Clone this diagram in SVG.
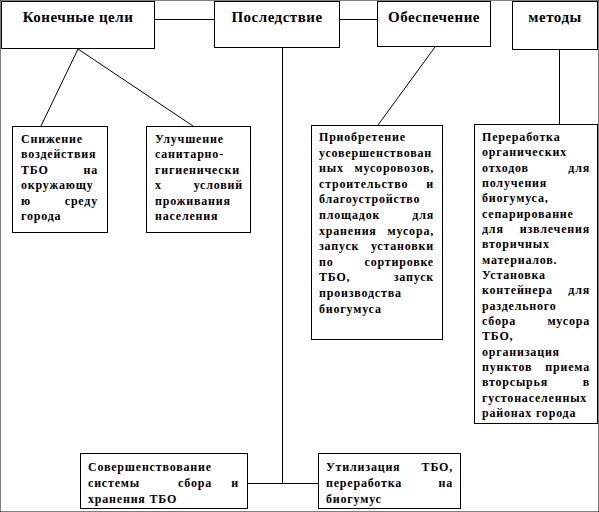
<svg xmlns="http://www.w3.org/2000/svg" width="599" height="512" viewBox="0 0 599 512">
<style>
rect{fill:#fff;stroke:#000;stroke-width:1}
line{stroke:#000;stroke-width:1}
text{font-family:"Liberation Serif","Times New Roman",serif;font-weight:bold;fill:#000}
.h{font-size:15px;letter-spacing:0.5px;text-anchor:middle}
.t{font-size:12px;letter-spacing:0.8px}
.r{text-anchor:end}
</style>
<rect width="599" height="512" fill="#fff" stroke="none"/>
<g id="connectors">
<line x1="154.5" y1="19.5" x2="214.5" y2="19.5"/>
<line x1="339.5" y1="19.5" x2="377.5" y2="19.5"/>
<line x1="78" y1="49" x2="41" y2="126"/>
<line x1="78" y1="49" x2="193" y2="126"/>
<line x1="435" y1="47" x2="378" y2="125"/>
<line x1="559.5" y1="50" x2="559.5" y2="124"/>
<line x1="282.5" y1="47" x2="282.5" y2="483.5"/>
<line x1="247.5" y1="483.5" x2="318.5" y2="483.5"/>
</g>
<g id="n1"><rect x="1.5" y="1.5" width="153" height="47"/><text class="h" x="78" y="22">Конечные цели</text></g>
<g id="n2"><rect x="214.5" y="1.5" width="125" height="46"/><text class="h" x="277" y="22">Последствие</text></g>
<g id="n3"><rect x="377.5" y="1.5" width="113" height="45"/><text class="h" x="434" y="22">Обеспечение</text></g>
<g id="n4"><rect x="512.5" y="1.5" width="85" height="48"/><text class="h" x="555" y="22">методы</text></g>
<g id="nA"><rect x="12.5" y="126.5" width="95" height="106"/>
<text class="t" x="21" y="143">Снижение</text>
<text class="t" x="21" y="158.4">воздействия</text>
<text class="t" x="21" y="173.8">ТБО</text><text class="t r" x="98" y="173.8">на</text>
<text class="t" x="21" y="189.2">окружающу</text>
<text class="t" x="21" y="204.6">ю</text><text class="t r" x="98" y="204.6">среду</text>
<text class="t" x="21" y="220">города</text>
</g>
<g id="nB"><rect x="146.5" y="126.5" width="104" height="106"/>
<text class="t" x="155" y="143">Улучшение</text>
<text class="t" x="155" y="158.4">санитарно-</text>
<text class="t" x="155" y="173.8">гигиенически</text>
<text class="t" x="155" y="189.2">х</text><text class="t r" x="243" y="189.2">условий</text>
<text class="t" x="155" y="204.6">проживания</text>
<text class="t" x="155" y="220">населения</text>
</g>
<g id="nC"><rect x="311.5" y="125.5" width="131" height="214"/>
<text class="t" x="319" y="141">Приобретение</text>
<text class="t" x="319" y="156.6">усовершенствован</text>
<text class="t" x="319" y="172.2">ных</text><text class="t r" x="434" y="172.2">мусоровозов,</text>
<text class="t" x="319" y="187.8">строительство</text><text class="t r" x="434" y="187.8">и</text>
<text class="t" x="319" y="203.4">благоустройство</text>
<text class="t" x="319" y="219">площадок</text><text class="t r" x="434" y="219">для</text>
<text class="t" x="319" y="234.6">хранения</text><text class="t r" x="434" y="234.6">мусора,</text>
<text class="t" x="319" y="250.2">запуск</text><text class="t r" x="434" y="250.2">установки</text>
<text class="t" x="319" y="265.8">по</text><text class="t r" x="434" y="265.8">сортировке</text>
<text class="t" x="319" y="281.4">ТБО,</text><text class="t r" x="434" y="281.4">запуск</text>
<text class="t" x="319" y="297">производства</text>
<text class="t" x="319" y="312.6">биогумуса</text>
</g>
<g id="nD"><rect x="474.5" y="124.5" width="123" height="299"/>
<text class="t" x="482" y="141">Переработка</text>
<text class="t" x="482" y="156.3">органических</text>
<text class="t" x="482" y="171.7">отходов</text><text class="t r" x="590" y="171.7">для</text>
<text class="t" x="482" y="187">получения</text>
<text class="t" x="482" y="202.3">биогумуса,</text>
<text class="t" x="482" y="217.7">сепарирование</text>
<text class="t" x="482" y="233">для</text><text class="t r" x="590" y="233">извлечения</text>
<text class="t" x="482" y="248.3">вторичных</text>
<text class="t" x="482" y="263.6">материалов.</text>
<text class="t" x="482" y="279">Установка</text>
<text class="t" x="482" y="294.3">контейнера</text><text class="t r" x="590" y="294.3">для</text>
<text class="t" x="482" y="309.6">раздельного</text>
<text class="t" x="482" y="325">сбора</text><text class="t r" x="590" y="325">мусора</text>
<text class="t" x="482" y="340.3">ТБО,</text>
<text class="t" x="482" y="355.6">организация</text>
<text class="t" x="482" y="371">пунктов</text><text class="t r" x="590" y="371">приема</text>
<text class="t" x="482" y="386.3">вторсырья</text><text class="t r" x="590" y="386.3">в</text>
<text class="t" x="482" y="401.6">густонаселенных</text>
<text class="t" x="482" y="417">районах города</text>
</g>
<g id="nE"><rect x="80.5" y="453.5" width="167" height="55"/>
<text class="t" x="88" y="471">Совершенствование</text>
<text class="t" x="88" y="487">системы</text><text class="t" x="178" y="487">сбора</text><text class="t r" x="239" y="487">и</text>
<text class="t" x="88" y="503">хранения ТБО</text>
</g>
<g id="nF"><rect x="318.5" y="453.5" width="142" height="55"/>
<text class="t" x="326" y="471">Утилизация</text><text class="t r" x="453" y="471">ТБО,</text>
<text class="t" x="326" y="487">переработка</text><text class="t r" x="453" y="487">на</text>
<text class="t" x="326" y="503">биогумус</text>
</g>
</svg>
